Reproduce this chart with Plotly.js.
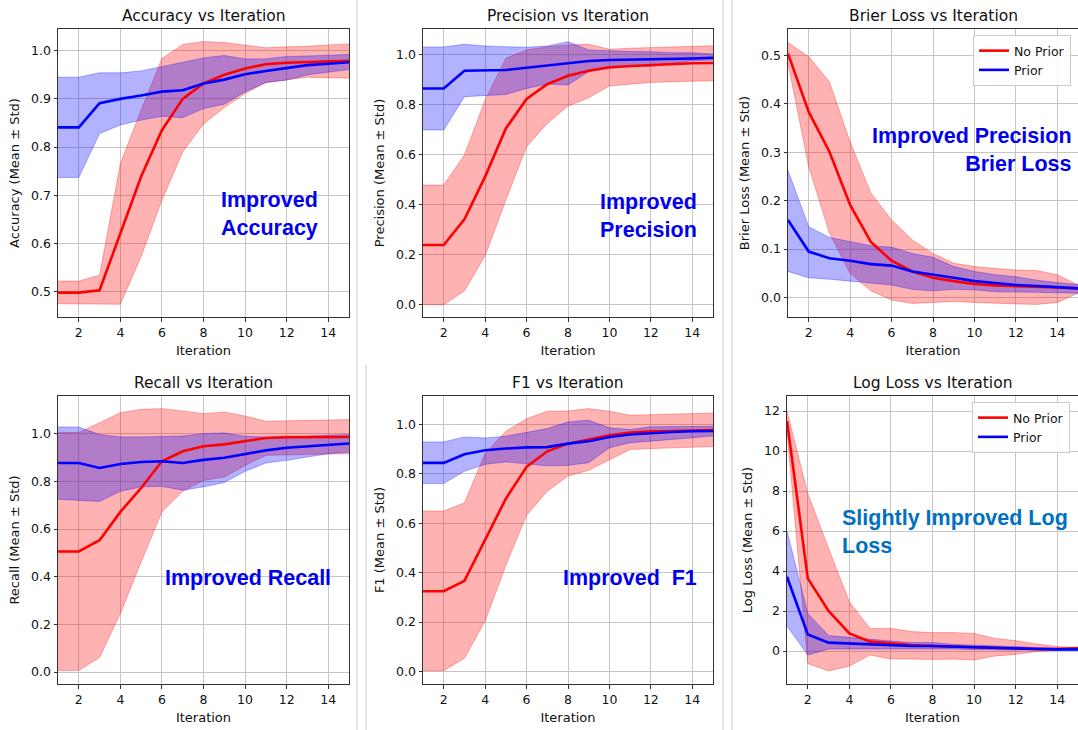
<!DOCTYPE html>
<html>
<head>
<meta charset="utf-8">
<script src="https://cdn.plot.ly/plotly-3.0.1.min.js"></script>
<style>html,body{margin:0;padding:0;background:#fff;}#chart{width:1078px;height:730px;}</style>
</head>
<body>
<div id="chart"></div>
<script>
// ---------------- DATA ----------------
const iterations = [1,2,3,4,5,6,7,8,9,10,11,12,13,14,15];
const seriesNames = ["No Prior", "Prior"];

// Accuracy
const accNoPriorMean  = [0.498,0.498,0.503,0.621,0.739,0.835,0.900,0.932,0.950,0.963,0.972,0.975,0.976,0.977,0.979];
const accNoPriorUpper = [0.522,0.522,0.534,0.766,0.877,0.984,1.013,1.019,1.017,1.012,1.006,1.008,1.009,1.012,1.014];
const accNoPriorLower = [0.475,0.475,0.474,0.474,0.573,0.690,0.790,0.848,0.882,0.911,0.934,0.939,0.945,0.944,0.943];
const accPriorMean    = [0.841,0.841,0.891,0.900,0.907,0.915,0.918,0.932,0.940,0.951,0.958,0.964,0.970,0.973,0.976];
const accPriorUpper   = [0.945,0.945,0.954,0.954,0.958,0.967,0.975,0.985,0.990,0.983,0.983,0.988,0.989,0.991,0.992];
const accPriorLower   = [0.737,0.737,0.828,0.846,0.856,0.864,0.861,0.880,0.889,0.915,0.934,0.939,0.950,0.956,0.961];

// Precision
const preNoPriorMean  = [0.239,0.239,0.342,0.513,0.706,0.824,0.883,0.917,0.937,0.951,0.956,0.960,0.963,0.967,0.968];
const preNoPriorUpper = [0.479,0.479,0.600,0.820,0.987,1.020,1.033,1.040,1.043,1.023,1.027,1.029,1.033,1.036,1.037];
const preNoPriorLower = [0.000,0.000,0.055,0.196,0.419,0.633,0.726,0.796,0.829,0.876,0.883,0.890,0.893,0.896,0.897];
const prePriorMean    = [0.866,0.866,0.937,0.937,0.940,0.949,0.959,0.967,0.976,0.980,0.981,0.983,0.984,0.986,0.989];
const prePriorUpper   = [1.032,1.032,1.043,1.036,1.033,1.031,1.036,1.053,1.020,1.016,1.014,1.013,1.009,1.009,1.004];
const prePriorLower   = [0.700,0.700,0.833,0.836,0.842,0.866,0.884,0.880,0.933,0.947,0.953,0.955,0.967,0.977,0.980];

// Brier loss
const brNoPriorMean   = [0.503,0.383,0.301,0.191,0.115,0.076,0.054,0.041,0.034,0.028,0.025,0.024,0.023,0.021,0.019];
const brNoPriorUpper  = [0.526,0.497,0.445,0.321,0.216,0.160,0.119,0.091,0.071,0.064,0.060,0.057,0.056,0.047,0.026];
const brNoPriorLower  = [0.483,0.270,0.133,0.050,0.014,-0.005,-0.012,-0.010,-0.008,-0.010,-0.012,-0.013,-0.014,-0.010,0.009];
const brPriorMean     = [0.160,0.095,0.081,0.076,0.069,0.066,0.054,0.048,0.041,0.034,0.030,0.026,0.024,0.021,0.019];
const brPriorUpper    = [0.262,0.146,0.124,0.115,0.107,0.104,0.091,0.083,0.064,0.054,0.047,0.043,0.036,0.031,0.027];
const brPriorLower    = [0.054,0.041,0.038,0.034,0.030,0.026,0.017,0.014,0.017,0.016,0.012,0.012,0.011,0.010,0.009];

// Recall
const recNoPriorMean  = [0.506,0.506,0.553,0.672,0.772,0.884,0.926,0.947,0.955,0.968,0.982,0.985,0.985,0.986,0.986];
const recNoPriorUpper = [1.005,1.005,1.046,1.088,1.102,1.105,1.095,1.084,1.091,1.074,1.052,1.053,1.056,1.058,1.059];
const recNoPriorLower = [0.007,0.007,0.061,0.246,0.462,0.672,0.758,0.804,0.818,0.867,0.909,0.912,0.913,0.915,0.916];
const recPriorMean    = [0.877,0.877,0.856,0.873,0.881,0.884,0.877,0.890,0.899,0.916,0.930,0.941,0.948,0.955,0.959];
const recPriorUpper   = [1.028,1.028,0.996,0.986,0.986,0.989,0.990,1.000,1.003,0.989,0.986,0.987,0.989,0.993,0.996];
const recPriorLower   = [0.725,0.722,0.716,0.758,0.777,0.779,0.763,0.777,0.795,0.842,0.877,0.888,0.902,0.916,0.923];

// F1
const f1NoPriorMean   = [0.325,0.325,0.367,0.532,0.700,0.829,0.892,0.923,0.941,0.957,0.968,0.973,0.974,0.976,0.978];
const f1NoPriorUpper  = [0.650,0.650,0.683,0.883,0.973,1.024,1.054,1.055,1.065,1.054,1.038,1.040,1.042,1.044,1.047];
const f1NoPriorLower  = [0.003,0.003,0.053,0.204,0.430,0.633,0.730,0.792,0.815,0.858,0.899,0.903,0.906,0.910,0.911];
const f1PriorMean     = [0.845,0.845,0.880,0.896,0.903,0.908,0.909,0.923,0.933,0.950,0.960,0.966,0.970,0.973,0.974];
const f1PriorUpper    = [0.930,0.930,0.950,0.946,0.953,0.970,0.984,1.011,1.018,0.987,0.980,0.991,0.991,0.991,0.993];
const f1PriorLower    = [0.761,0.761,0.811,0.839,0.849,0.842,0.833,0.835,0.846,0.906,0.927,0.933,0.940,0.950,0.954];

// Log loss
const llNoPriorMean   = [11.5,3.63,2.00,0.88,0.47,0.38,0.30,0.25,0.22,0.18,0.13,0.12,0.10,0.10,0.15];
const llNoPriorUpper  = [12.0,7.87,5.13,2.46,1.13,1.13,0.97,0.92,0.92,0.88,0.63,0.52,0.35,0.22,0.17];
const llNoPriorLower  = [10.95,-0.62,-1.00,-0.75,-0.20,-0.40,-0.40,-0.42,-0.40,-0.45,-0.25,-0.17,-0.03,0.05,0.10];
const llPriorMean     = [3.71,0.83,0.42,0.37,0.33,0.30,0.25,0.25,0.22,0.17,0.13,0.12,0.10,0.08,0.08];
const llPriorUpper    = [6.00,1.88,0.77,0.67,0.60,0.50,0.42,0.42,0.33,0.30,0.25,0.22,0.17,0.13,0.12];
const llPriorLower    = [1.25,-0.20,0.10,0.10,0.12,0.13,0.13,0.13,0.10,0.07,0.05,0.05,0.05,0.03,0.03];

// Panel text
const panelTitles = ["Accuracy vs Iteration","Precision vs Iteration","Brier Loss vs Iteration",
                     "Recall vs Iteration","F1 vs Iteration","Log Loss vs Iteration"];
const yTitles = ["Accuracy (Mean ± Std)","Precision (Mean ± Std)","Brier Loss (Mean ± Std)",
                 "Recall (Mean ± Std)","F1 (Mean ± Std)","Log Loss (Mean ± Std)"];
const xTitle = "Iteration";
const noteTexts = ["Improved<br>Accuracy","Improved<br>Precision","Improved Precision<br>Brier Loss",
                   "Improved Recall","Improved  F1","Slightly Improved Log<br>Loss"];

// ---------------- LAYOUT HELPERS ----------------
const W = 1078, H = 730;
const RED = "#ff0000", BLUE = "#0000ff";
const RED_FILL = "rgba(255,0,0,0.3)", BLUE_FILL = "rgba(0,0,255,0.3)";
const FONT = "DejaVu Sans, sans-serif";

// pixel boxes [left, right, top, bottom]
const boxes = [
  [58, 349, 29, 317], [423, 713, 29, 317], [788, 1078, 29, 317],
  [58, 349, 396, 684], [423, 713, 396, 684], [787, 1078, 396, 684]
];
const yRanges = [[0.4475,1.045],[-0.049,1.104],[-0.040,0.554],[-0.05,1.158],[-0.051,1.116],[-1.65,12.75]];
const yTicks = [
  {tick0:0.5, dtick:0.1, fmt:".1f"}, {tick0:0, dtick:0.2, fmt:".1f"}, {tick0:0, dtick:0.1, fmt:".1f"},
  {tick0:0, dtick:0.2, fmt:".1f"}, {tick0:0, dtick:0.2, fmt:".1f"}, {tick0:0, dtick:2, fmt:"d"}
];

const panels = [
  [accNoPriorMean, accNoPriorUpper, accNoPriorLower, accPriorMean, accPriorUpper, accPriorLower],
  [preNoPriorMean, preNoPriorUpper, preNoPriorLower, prePriorMean, prePriorUpper, prePriorLower],
  [brNoPriorMean, brNoPriorUpper, brNoPriorLower, brPriorMean, brPriorUpper, brPriorLower],
  [recNoPriorMean, recNoPriorUpper, recNoPriorLower, recPriorMean, recPriorUpper, recPriorLower],
  [f1NoPriorMean, f1NoPriorUpper, f1NoPriorLower, f1PriorMean, f1PriorUpper, f1PriorLower],
  [llNoPriorMean, llNoPriorUpper, llNoPriorLower, llPriorMean, llPriorUpper, llPriorLower]
];

const traces = [];
const layout = {
  width: W, height: H,
  margin: {l:0, r:0, t:0, b:0},
  paper_bgcolor: "#ffffff", plot_bgcolor: "#ffffff",
  font: {family: FONT, color: "#111111", size: 12.5},
  showlegend: true,
  annotations: [], shapes: []
};

panels.forEach((p, i) => {
  const k = i + 1;
  const xa = "x" + (k === 1 ? "" : k), ya = "y" + (k === 1 ? "" : k);
  const legendId = i === 2 ? "legend" : (i === 5 ? "legend2" : null);
  const [nm, nu, nl, pm, pu, pl] = p;
  // bands (fills under lines)
  [[nl, nu, RED_FILL], [pl, pu, BLUE_FILL]].forEach(([lo, up, col]) => {
    traces.push({x: iterations, y: lo, xaxis: xa, yaxis: ya, mode: "lines",
      line: {color: col, width: 1}, showlegend: false, hoverinfo: "skip"});
    traces.push({x: iterations, y: up, xaxis: xa, yaxis: ya, mode: "lines", fill: "tonexty",
      fillcolor: col, line: {color: col, width: 1}, showlegend: false, hoverinfo: "skip"});
  });
  [[nm, RED, seriesNames[0]], [pm, BLUE, seriesNames[1]]].forEach(([m, col, name]) => {
    const t = {x: iterations, y: m, xaxis: xa, yaxis: ya, mode: "lines", name: name,
      line: {color: col, width: 2.6}, showlegend: legendId !== null};
    if (legendId) t.legend = legendId;
    traces.push(t);
  });

  const [L, R, T, B] = boxes[i];
  const axisCommon = {
    showline: true, mirror: true, linecolor: "#333333", linewidth: 1,
    ticks: "outside", ticklen: 3.5, tickwidth: 1, tickcolor: "#333333",
    showgrid: true, gridcolor: "#c6c6c6", gridwidth: 1, zeroline: false,
    tickfont: {family: FONT, size: 12.5, color: "#111111"}
  };
  layout["xaxis" + (k === 1 ? "" : k)] = Object.assign({}, axisCommon, {
    domain: [L / W, Math.min(R / W, 1)], anchor: ya, range: [1, 15],
    tick0: 2, dtick: 2,
    title: {text: xTitle, font: {family: FONT, size: 13, color: "#111111"}, standoff: 7}
  });
  layout["yaxis" + (k === 1 ? "" : k)] = Object.assign({}, axisCommon, {
    domain: [1 - B / H, 1 - T / H], anchor: xa, range: yRanges[i],
    tick0: yTicks[i].tick0, dtick: yTicks[i].dtick, tickformat: yTicks[i].fmt,
    title: {text: yTitles[i], font: {family: FONT, size: 13, color: "#111111"}, standoff: 8}
  });
  layout.annotations.push({
    text: panelTitles[i], xref: "paper", yref: "paper",
    x: ((L + Math.min(R, 1078)) / 2) / W, y: 1 - (T - 13) / H,
    xanchor: "center", yanchor: "middle", showarrow: false,
    font: {family: FONT, size: 15.5, color: "#111111"}
  });
});

// callout notes (data coordinates of each panel)
const noteSpecs = [
  {xref:"x",  yref:"y",  x:11.17, y:0.662, xanchor:"center", align:"center", color:"#0000ee"},
  {xref:"x2", yref:"y2", x:11.87, y:0.355, xanchor:"center", align:"center", color:"#0000ee"},
  {xref:"x3", yref:"y3", x:14.80, y:0.3035, xanchor:"right", align:"right", color:"#0000ee"},
  {xref:"x4", yref:"y4", x:10.16, y:0.394, xanchor:"center", align:"center", color:"#0000ee"},
  {xref:"x5", yref:"y5", x:11.00, y:0.378, xanchor:"center", align:"center", color:"#0000ee"},
  {xref:"x6", yref:"y6", x:3.56,  y:5.97,  xanchor:"left",  align:"left",  color:"#0070c0"}
];
noteSpecs.forEach((s, i) => {
  layout.annotations.push({
    text: "<b>" + noteTexts[i] + "</b>", xref: s.xref, yref: s.yref, x: s.x, y: s.y,
    xanchor: s.xanchor, yanchor: "middle", align: s.align, showarrow: false,
    font: {family: "Liberation Sans, Arial, sans-serif", size: 21.5, color: s.color}
  });
});

// legends
const legendCommon = {
  xanchor: "left", yanchor: "top", bgcolor: "rgba(255,255,255,0.85)",
  bordercolor: "#cccccc", borderwidth: 1, font: {family: FONT, size: 12.5, color: "#111111"},
  itemwidth: 30, tracegroupgap: 0, traceorder: "normal"
};
layout.legend = Object.assign({}, legendCommon, {x: 973 / W, y: 1 - 35 / H});
layout.legend2 = Object.assign({}, legendCommon, {x: 972 / W, y: 1 - 402 / H});

// light separator lines between panel images
[[357, 0, 730], [366, 365, 730], [723, 0, 730], [732, 0, 730]].forEach(([x, y0, y1]) => {
  layout.shapes.push({type: "line", xref: "paper", yref: "paper",
    x0: x / W, x1: x / W, y0: 1 - y0 / H, y1: 1 - y1 / H,
    line: {color: "#d4d4d4", width: 1.2}, layer: "below"});
});

Plotly.newPlot("chart", traces, layout, {displayModeBar: false, staticPlot: true});
</script>
</body>
</html>
